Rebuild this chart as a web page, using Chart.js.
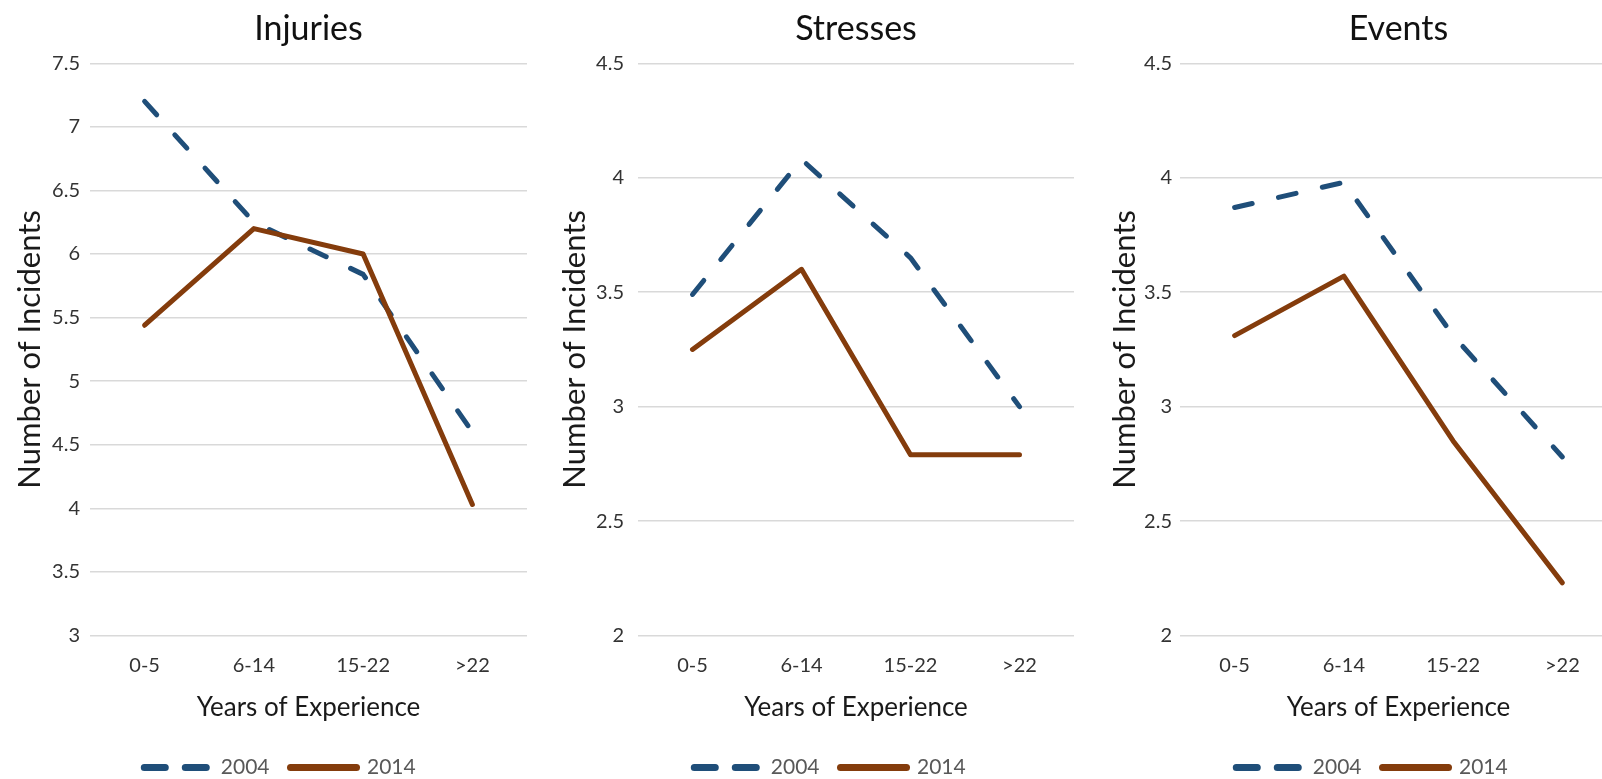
<!DOCTYPE html>
<html>
<head>
<meta charset="utf-8">
<title>Incidents by years of experience</title>
<script src="https://cdn.jsdelivr.net/npm/chart.js@4.4.0/dist/chart.umd.min.js"></script>
<style>
    html, body {
        margin: 0;
        padding: 0;
        background: #ffffff;
        width: 1602px;
        height: 779px;
        overflow: hidden;
        position: relative;
    }
    canvas {
        position: absolute;
        top: 0;
    }
</style>
</head>
<body>
<canvas id="injuries" width="560" height="788" style="left:0px"></canvas>
<canvas id="stresses" width="570" height="788" style="left:545px"></canvas>
<canvas id="events" width="554" height="788" style="left:1095px"></canvas>

<script>
// categories and series
const experienceLabels = ['0-5', '6-14', '15-22', '>22'];
const seriesYears = ['2004', '2014'];
const panelTitles = ['Injuries', 'Stresses', 'Events'];
const xAxisTitle = 'Years of Experience';
const yAxisTitle = 'Number of Incidents';

// values
const injuries2004 = [7.2, 6.25, 5.84, 4.6];
const injuries2014 = [5.44, 6.2, 6.0, 4.03];
const stresses2004 = [3.49, 4.08, 3.65, 3.0];
const stresses2014 = [3.25, 3.6, 2.79, 2.79];
const events2004 = [3.87, 3.98, 3.31, 2.78];
const events2014 = [3.31, 3.57, 2.85, 2.23];

// y axis range of each panel (ticks every 0.5)
const yMin = [3, 2, 2];
const yMax = [7.5, 4.5, 4.5];
const yStep = 0.5;

const blue = '#1f4e79';
const brown = '#843c0c';

Chart.defaults.font.family = "Lato, 'Open Sans', sans-serif";
Chart.defaults.animation = false;

// legend sample for the dashed series is shorter dashes than the plot line
function legendLabels(chart) {
    const items = Chart.defaults.plugins.legend.labels.generateLabels(chart);
    items.forEach(function (item) {
        const ds = chart.data.datasets[item.datasetIndex];
        item.lineDash = ds.borderDash ? [21, 20] : [];
        item.lineCap = 'round';
        item.lineWidth = 7;
    });
    items.sort(function (a, b) {
        return a.datasetIndex - b.datasetIndex;
    });
    return items;
}

function drawPanel(canvasId, title, values2004, values2014, min, max, axisWidth, rightSpace, tickPad) {
    const ctx = document.getElementById(canvasId).getContext('2d');
    return new Chart(ctx, {
        type: 'line',
        data: {
            labels: experienceLabels,
            datasets: [{
                label: seriesYears[0],
                data: values2004,
                borderColor: blue,
                backgroundColor: blue,
                borderWidth: 5,
                borderDash: [18, 27],
                borderCapStyle: 'round',
                borderJoinStyle: 'round',
                pointRadius: 0,
                tension: 0,
                order: 2
            }, {
                label: seriesYears[1],
                data: values2014,
                borderColor: brown,
                backgroundColor: brown,
                borderWidth: 5,
                borderCapStyle: 'round',
                borderJoinStyle: 'round',
                pointRadius: 0,
                tension: 0,
                order: 1
            }]
        },
        options: {
            responsive: false,
            layout: {
                padding: 0
            },
            scales: {
                x: {
                    offset: true,
                    grid: {display: false},
                    border: {display: false},
                    ticks: {
                        padding: 10,
                        color: '#333333',
                        font: {size: 20}
                    },
                    title: {
                        display: true,
                        text: xAxisTitle,
                        color: '#1a1a1a',
                        font: {size: 26},
                        padding: {top: 0, bottom: 13}
                    },
                    afterFit: function (scale) {
                        scale.height = 100.5;
                    }
                },
                y: {
                    min: min,
                    max: max,
                    grid: {
                        color: '#d9d9d9',
                        lineWidth: 1.5,
                        drawTicks: false
                    },
                    border: {display: false},
                    ticks: {
                        stepSize: yStep,
                        padding: tickPad,
                        color: '#333333',
                        font: {size: 20},
                        callback: function (value) {
                            return String(Math.round(value * 10) / 10);
                        }
                    },
                    title: {
                        display: true,
                        text: yAxisTitle,
                        color: '#1a1a1a',
                        font: {size: 31},
                        padding: {top: 11.4, bottom: 0}
                    },
                    afterFit: function (scale) {
                        scale.width = axisWidth;
                    }
                },
                // empty axis on the right, only to keep the legend centred like the original
                spacer: {
                    type: 'linear',
                    position: 'right',
                    display: true,
                    grid: {display: false},
                    border: {display: false},
                    ticks: {display: false},
                    afterFit: function (scale) {
                        scale.width = rightSpace;
                    }
                }
            },
            plugins: {
                title: {
                    display: true,
                    text: title,
                    fullSize: false,
                    color: '#111111',
                    font: {size: 34, weight: 'normal'},
                    padding: {top: 8.6, bottom: 13.9}
                },
                legend: {
                    position: 'bottom',
                    labels: {
                        usePointStyle: true,
                        pointStyle: 'line',
                        pointStyleWidth: 66,
                        color: '#595959',
                        font: {size: 21},
                        padding: 21,
                        generateLabels: legendLabels
                    }
                },
                tooltip: {enabled: false}
            }
        }
    });
}

drawPanel('injuries', panelTitles[0], injuries2004, injuries2014, yMin[0], yMax[0], 90, 33, 10);
drawPanel('stresses', panelTitles[1], stresses2004, stresses2014, yMin[1], yMax[1], 93, 41, 14);
drawPanel('events', panelTitles[2], events2004, events2014, yMin[2], yMax[2], 85, 32, 8);
</script>
</body>
</html>
